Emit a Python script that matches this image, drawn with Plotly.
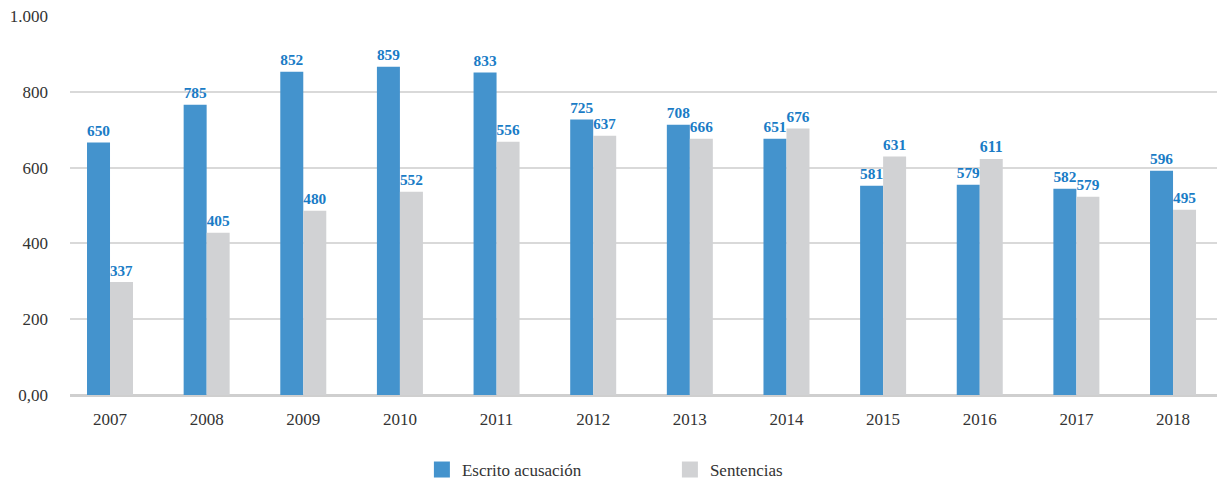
import plotly.graph_objects as go

years = ["2007", "2008", "2009", "2010", "2011", "2012", "2013", "2014", "2015", "2016", "2017", "2018"]
# bar heights as drawn in the reference
escrito_heights = [666, 766, 853, 866, 851, 727, 713, 676, 552, 555, 544, 592]
sentencias_heights = [298, 428, 486, 536, 668, 684, 676, 703, 629, 623, 523, 489]
# value labels printed above the bars
escrito_labels = ["650", "785", "852", "859", "833", "725", "708", "651", "581", "579", "582", "596"]
sentencias_labels = ["337", "405", "480", "552", "556", "637", "666", "676", "631", "611", "579", "495"]
y_tickvals = [0, 200, 400, 600, 800, 1000]
y_ticktext = ["0,00", "200", "400", "600", "800", "1.000"]

BLUE = "#4493cd"
GREY = "#d1d2d4"
serif = "'Liberation Serif', 'DejaVu Serif', serif"
label_font = dict(family=serif, size=17, color="#1a7cc6")

fig = go.Figure()
fig.add_trace(go.Bar(
    name="Escrito acusación", x=years, y=escrito_heights,
    marker=dict(color=BLUE, line=dict(width=0)),
    text=escrito_labels, textposition="outside", textfont=label_font,
    texttemplate="<b>%{text}</b>", cliponaxis=False, showlegend=False,
))
fig.add_trace(go.Bar(
    name="Sentencias", x=years, y=sentencias_heights,
    marker=dict(color=GREY, line=dict(width=0)),
    text=sentencias_labels, textposition="outside", textfont=label_font,
    texttemplate="<b>%{text}</b>", cliponaxis=False, showlegend=False,
))
# legend entries with larger square keys
for name, col in [("Escrito acusación", BLUE), ("Sentencias", GREY)]:
    fig.add_trace(go.Scatter(
        name=name, x=[None], y=[None], mode="markers",
        marker=dict(symbol="square", size=19, color=col, line=dict(width=0)),
        showlegend=True,
    ))

fig.update_layout(
    width=1218, height=484,
    margin=dict(l=70, r=1, t=16, b=89),
    paper_bgcolor="white", plot_bgcolor="white",
    barmode="group", bargap=0.524, bargroupgap=0,
    font=dict(family=serif, size=17, color="#333333"),
    showlegend=True,
    legend=dict(orientation="h", xref="container", yref="container",
                x=0.550, xanchor="center", y=0.029, yanchor="middle",
                font=dict(family=serif, size=17, color="#333333"),
                entrywidth=203, entrywidthmode="pixels", traceorder="normal",
                itemsizing="trace"),
    xaxis=dict(type="category", range=[-0.414, 11.455], showgrid=False, automargin=False,
               showline=False, ticks="", ticklabelstandoff=12,
               tickfont=dict(family=serif, size=17, color="#333333")),
    yaxis=dict(range=[0, 1000], tickvals=y_tickvals, ticktext=y_ticktext, automargin=False,
               showgrid=True, gridcolor="#d9d9d9", gridwidth=1.5,
               zeroline=True, zerolinecolor="#cfcfcf", zerolinewidth=2.5,
               showline=False, ticks="", ticklabelstandoff=21,
               tickfont=dict(family=serif, size=17, color="#333333")),
)

fig.write_html("out.html", config={"displayModeBar": False},
               post_script="document.body.style.margin='0px';")
